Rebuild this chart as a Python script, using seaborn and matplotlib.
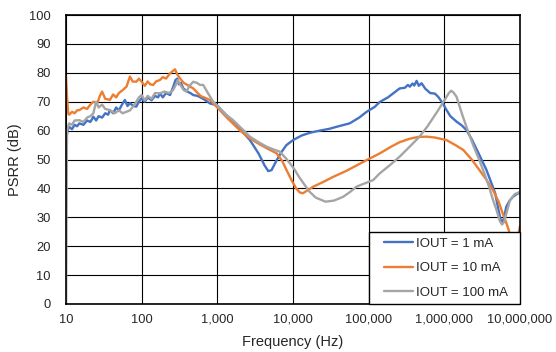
import matplotlib
matplotlib.use("Agg")
import matplotlib.pyplot as plt
import matplotlib.ticker as mticker
from matplotlib.legend_handler import HandlerLine2D
from matplotlib.lines import Line2D
import numpy as np
import pandas as pd
import seaborn as sns

# PSRR vs frequency, three load currents
freq_1ma = [10, 10.5, 11, 12, 13, 14, 15, 17, 19, 21, 23, 25, 27, 30, 33, 36, 38, 42, 46, 50,
            55, 60, 65, 70, 78, 85, 92, 100, 110, 120, 135, 150, 165, 174, 190, 210, 237, 260,
            280, 295, 310, 330, 355, 400, 440, 480, 550, 650, 800, 980, 1300, 1600, 2000, 2700,
            3500, 4200, 4700, 5200, 6100, 7000, 8200, 10000, 13000, 17000, 22700, 30000, 40000,
            56000, 75000, 94000, 120000, 140000, 180000, 257000, 300000, 330000, 350000, 380000,
            400000, 430000, 460000, 500000, 560000, 650000, 750000, 830000, 950000, 1070000,
            1200000, 1450000, 1700000, 1960000, 2300000, 2700000, 3100000, 3600000, 4100000,
            4700000, 5200000, 5700000, 6100000, 6600000, 7300000, 8100000, 9000000, 10000000]
psrr_1ma = [56.5, 60, 61.3, 60.5, 62, 61.5, 62.5, 62, 63.5, 63, 64.8, 63.5, 65, 64.5, 66, 65.5,
            67.1, 66, 68, 67, 69, 70.6, 68.5, 69.5, 68.5, 68.3, 70, 71.2, 70, 71.5, 70.5, 72,
            71.5, 72.9, 71.5, 73, 72.3, 75, 77.5, 78, 76, 76.5, 74.6, 73.5, 73, 72.3, 72, 71,
            69.4, 68.8, 65.5, 63.5, 60.5, 56.7, 52.1, 48, 46, 46.3, 49.8, 52.5, 55, 56.7, 58.3,
            59.3, 60, 60.6, 61.5, 62.5, 64.5, 66.5, 68.2, 69.9, 71.5, 74.6, 74.8, 75.8, 75.2,
            76.3, 75.6, 77.2, 75.5, 76.4, 74.5, 73, 72.8, 71.7, 69.5, 67.1, 65, 63.1, 61.8,
            60.2, 57, 53.3, 50, 46.4, 42.5, 38.3, 32.5, 27.9, 29.5, 33.7, 35.8, 37.1, 38, 38.5]

freq_10ma = [10, 10.3, 10.7, 11, 12, 13, 14, 15, 17, 19, 21, 23, 26, 28, 30, 33, 36, 38, 42, 46,
             50, 56, 63, 70, 76, 85, 92, 100, 110, 120, 130, 142, 155, 174, 190, 210, 237, 255,
             276, 295, 320, 360, 420, 480, 600, 800, 1000, 1300, 1600, 2000, 2700, 3600, 4500,
             6100, 7200, 8200, 9500, 11000, 12300, 13500, 15500, 18500, 25000, 34000, 50000,
             70000, 94000, 140000, 200000, 257000, 350000, 450000, 582000, 750000, 1070000,
             1400000, 1780000, 2300000, 2900000, 3600000, 4400000, 5200000, 5900000, 6500000,
             7100000, 7700000, 8300000, 8900000, 9500000, 10000000]
psrr_10ma = [78.6, 72, 66, 65.5, 66.5, 66, 67, 67.1, 68, 67.5, 69, 70, 69.5, 72, 73.5, 71, 70.8,
             70.6, 72.5, 71.5, 73, 74, 75.2, 78.7, 77, 76.9, 78, 76.9, 75.5, 77, 76, 75.8, 77,
             77.5, 78.5, 78, 79.8, 80.5, 81.2, 79.5, 78.1, 76.5, 75.5, 74.6, 72, 70.6, 68, 64.8,
             62.5, 60, 57.3, 55.3, 53.9, 52.1, 49.5, 46.4, 43, 40, 38.6, 38.3, 39.3, 40.6, 42.2,
             44, 46, 48, 49.8, 52.1, 54.5, 56, 57.2, 57.8, 57.9, 57.6, 56.7, 55, 53.3, 50, 46.4,
             43, 39.4, 35.5, 31.4, 28.5, 25.6, 21, 18, 20, 24, 27]

freq_100ma = [10, 10.3, 11, 12, 13, 15, 17, 19, 21, 23, 25, 27, 30, 33, 38, 44, 50, 56, 63, 70,
              78, 85, 92, 100, 110, 120, 135, 150, 174, 200, 230, 260, 285, 300, 330, 360, 390,
              430, 480, 540, 590, 650, 750, 880, 980, 1300, 1600, 2200, 2700, 3500, 4500, 5500,
              6700, 8000, 9100, 10500, 12000, 14000, 16500, 20000, 27000, 35000, 46000, 57000,
              69000, 90000, 115000, 140000, 190000, 257000, 350000, 470000, 600000, 780000,
              950000, 1070000, 1150000, 1230000, 1320000, 1450000, 1700000, 1960000, 2400000,
              2900000, 3400000, 3900000, 4400000, 4900000, 5400000, 5800000, 6200000, 6700000,
              7400000, 8500000, 10000000]
psrr_100ma = [0, 60, 62.5, 62, 63.5, 63.6, 63, 64.5, 65, 66, 70, 68, 69, 67.5, 67.1, 66, 67, 66,
              66.5, 67, 68.5, 70, 71.5, 72.3, 70.5, 72, 71, 73, 72.9, 73.5, 73, 74, 76, 77.5,
              75.5, 74, 73.5, 75.5, 76.9, 76.5, 75.8, 75.8, 73, 70, 68.9, 65.4, 63.7, 60.2, 57.9,
              56, 54.4, 53.5, 52.7, 50.5, 48.7, 46.5, 44, 41.5, 38.9, 36.8, 35.4, 35.8, 37.1,
              38.8, 40.6, 41.8, 42.9, 45.2, 48, 51, 54.5, 57.9, 61.5, 66, 69.5, 71.7, 73, 73.8,
              73.2, 71.7, 66, 61.3, 55, 49.8, 45, 40.6, 36, 32.5, 28.8, 27.5, 28.5, 32, 36, 38,
              38.8]

series_labels = ["IOUT = 1 mA", "IOUT = 10 mA", "IOUT = 100 mA"]
series_colors = ["#4472C4", "#ED7D31", "#A5A5A5"]

x_ticks = [10, 100, 1000, 10000, 100000, 1000000, 10000000]
y_ticks = list(range(0, 101, 10))

frames = []
for lab, f, v in zip(series_labels, [freq_1ma, freq_10ma, freq_100ma],
                     [psrr_1ma, psrr_10ma, psrr_100ma]):
    frames.append(pd.DataFrame({"Frequency": f, "PSRR": v, "Series": lab}))
df = pd.concat(frames, ignore_index=True)


class InsetLineHandler(HandlerLine2D):
    """Legend line drawn with some blank space before it."""

    def __init__(self, inset=0.75, **kw):
        super().__init__(**kw)
        self.inset = inset

    def create_artists(self, legend, orig_handle, xdescent, ydescent, width, height,
                       fontsize, trans):
        shift = self.inset * fontsize
        return super().create_artists(legend, orig_handle, xdescent - shift, ydescent,
                                      width - shift, height, fontsize, trans)


sns.set_style("white")
plt.rcParams["font.family"] = ["Liberation Sans", "DejaVu Sans"]

fig = plt.figure(figsize=(5.56, 3.52), dpi=100)
ax = fig.add_axes([66 / 556, 48 / 352, 454 / 556, 289 / 352])

sns.lineplot(data=df, x="Frequency", y="PSRR", hue="Series", hue_order=series_labels,
             palette=series_colors, estimator=None, sort=False, linewidth=1.7, ax=ax)

ax.set_xscale("log")
ax.set_xlim(10, 10000000)
ax.set_ylim(0, 100)
ax.set_xticks(x_ticks)
ax.xaxis.set_major_formatter(mticker.FuncFormatter(lambda v, p: f"{int(round(v)):,}"))
ax.xaxis.set_minor_locator(mticker.NullLocator())
ax.set_yticks(y_ticks)
ax.tick_params(axis="both", length=0, labelsize=9.3, colors="#262626")
ax.tick_params(axis="x", pad=7)
ax.tick_params(axis="y", pad=11)

ax.grid(True, which="major", color="black", linewidth=0.8)
ax.set_axisbelow(True)
for s in ax.spines.values():
    s.set_visible(True)
    s.set_color("black")
    s.set_linewidth(1.2)

ax.set_xlabel("Frequency (Hz)", fontsize=10.5, color="#262626", labelpad=7)
ax.set_ylabel("PSRR (dB)", fontsize=10.5, color="#262626", labelpad=5)

handles, labels = ax.get_legend_handles_labels()
leg_w = 151 / 454
leg_h = 72 / 289
leg = ax.legend(handles, labels, loc="lower right",
                bbox_to_anchor=(1 - leg_w, 0, leg_w, leg_h), mode="expand",
                borderaxespad=0, fontsize=9.5, frameon=True, fancybox=False,
                handlelength=2.95, handletextpad=0.2, labelspacing=0.92,
                borderpad=0.4, handler_map={Line2D: InsetLineHandler(inset=0.75)})
leg.get_frame().set_edgecolor("black")
leg.get_frame().set_linewidth(1.0)
leg.get_frame().set_alpha(1)
for line in leg.get_lines():
    line.set_linewidth(1.7)

fig.savefig("out.png", dpi=100)
